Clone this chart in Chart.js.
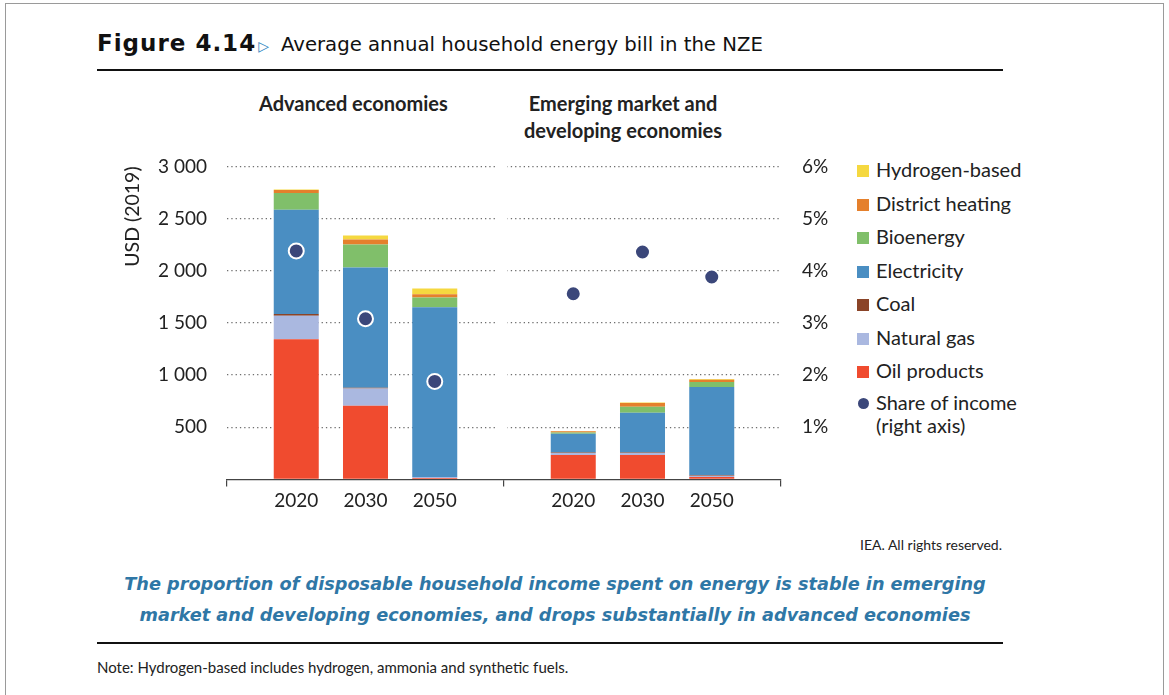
<!DOCTYPE html>
<html>
<head>
<meta charset="utf-8">
<script src="https://cdn.jsdelivr.net/npm/chart.js@4.4.1/dist/chart.umd.min.js"></script>
<style>
  body { margin: 0; width: 1169px; height: 695px; background: #fff; position: relative; overflow: hidden; font-family: Lato, "Noto Sans", sans-serif; color: #222; }
  .frame { position: absolute; left: 5px; top: 3px; width: 1157px; height: 720px; border: 1px solid #9a9a9a; }
  .abs { position: absolute; white-space: nowrap; }
  .title { left: 97px; top: 30px; font-family: "DejaVu Sans", sans-serif; font-size: 19.7px; color: #111; }
  .title b { font-weight: 900; font-size: 23px; letter-spacing: 1px; }
  .title .tri { color: #2e86c1; font-size: 14px; margin: 0 12px 0 2px; }
  .rule { position: absolute; left: 97px; width: 906px; background: #111; }
  .panel { font-size: 20px; font-weight: 700; text-align: center; line-height: 27px; color: #222; }
  #chartBox { position: absolute; left: 100px; top: 134px; width: 750px; height: 386px; }
  #legend { position: absolute; left: 855px; top: 156px; font-size: 20px; color: #222; }
  #legend .row { height: 33.5px; display: flex; align-items: flex-start; line-height: 27px; }
  #legend .sw { width: 12px; height: 12px; margin: 9px 7px 0 2px; flex: none; }
  #legend .dot { width: 11px; height: 11px; border-radius: 50%; margin: 9px 7px 0 3px; flex: none; }
  .caption { left: 0; width: 1110px; text-align: center; font-family: "DejaVu Sans", sans-serif; font-style: italic; font-weight: 700; font-size: 17.7px; color: #2f77a6; line-height: 31px; }
</style>
</head>
<body>
<div class="frame"></div>
<div class="abs title"><b>Figure 4.14</b><span class="tri">&#9655;</span>Average annual household energy bill in the NZE</div>
<div class="rule" style="top:69px;height:1.5px"></div>
<div class="abs panel" style="left:259px;top:90px">Advanced economies</div>
<div class="abs panel" style="left:524px;top:90px">Emerging market and<br>developing economies</div>
<div id="chartBox"><canvas id="chart"></canvas></div>
<div id="legend"></div>
<div class="abs" style="right:167px;top:536px;font-size:14px;color:#222">IEA. All rights reserved.</div>
<div class="abs caption" style="top:569px">The proportion of disposable household income spent on energy is stable in emerging<br>market and developing economies, and drops substantially in advanced economies</div>
<div class="rule" style="top:642px;height:2px"></div>
<div class="abs" style="left:97px;top:658px;font-size:15px;color:#222">Note: Hydrogen-based includes hydrogen, ammonia and synthetic fuels.</div>

<script>
// categories: three years per region group
const years = ['2020', '2030', '2050'];
const xAdvanced = [1, 2, 3];
const xEmerging = [5, 6, 7];

// USD (2019), order: 2020, 2030, 2050
const oilAE = [1345, 706, 15];
const gasAE = [225, 165, 8];
const coalAE = [15, 8, 2];
const elecAE = [1000, 1153, 1625];
const bioAE = [160, 220, 95];
const heatAE = [28, 48, 30];
const h2AE = [5, 38, 55];

const oilEM = [235, 235, 25];
const gasEM = [18, 18, 12];
const coalEM = [6, 5, 5];
const elecEM = [180, 382, 845];
const bioEM = [12, 57, 48];
const heatEM = [12, 35, 20];
const h2EM = [2, 5, 8];

// share of income, %
const shareAE = [4.38, 3.08, 1.88];
const shareEM = [3.56, 4.36, 3.88];

const usdTicks = [500, 1000, 1500, 2000, 2500, 3000];

function points(ae, em) {
    const out = [];
    ae.forEach((v, i) => out.push({ x: xAdvanced[i], y: v }));
    em.forEach((v, i) => out.push({ x: xEmerging[i], y: v }));
    return out;
}

const series = [
    { label: 'Oil products', ae: oilAE, em: oilEM, color: '#f04b2f' },
    { label: 'Natural gas', ae: gasAE, em: gasEM, color: '#aab8e0' },
    { label: 'Coal', ae: coalAE, em: coalEM, color: '#8a4428' },
    { label: 'Electricity', ae: elecAE, em: elecEM, color: '#4a8ec2' },
    { label: 'Bioenergy', ae: bioAE, em: bioEM, color: '#80bf6a' },
    { label: 'District heating', ae: heatAE, em: heatEM, color: '#e5802c' },
    { label: 'Hydrogen-based', ae: h2AE, em: h2EM, color: '#f5d840' }
];

const datasets = series.map(s => ({
    type: 'bar',
    label: s.label,
    data: points(s.ae, s.em),
    backgroundColor: s.color,
    borderWidth: 0,
    barPercentage: 0.65,
    categoryPercentage: 1,
    order: 2,
    yAxisID: 'y'
}));

datasets.push({
    type: 'scatter',
    label: 'Share of income (right axis)',
    data: points(shareAE, shareEM),
    backgroundColor: '#3b477a',
    borderColor: '#ffffff',
    borderWidth: 2,
    pointRadius: 7.5,
    order: 0,
    yAxisID: 'y1'
});

// tick label lookup for the x axis
const xLabels = {};
xAdvanced.forEach((x, i) => xLabels[x] = years[i]);
xEmerging.forEach((x, i) => xLabels[x] = years[i]);

const fontFamily = 'Lato, "Noto Sans", sans-serif';

// small gap in the dotted grid between the two panels
const panelGap = {
    id: 'panelGap',
    beforeDatasetsDraw(chart) {
        const { ctx, chartArea, scales } = chart;
        const x0 = scales.x.getPixelForValue(3.9);
        const x1 = scales.x.getPixelForValue(4.05);
        ctx.save();
        ctx.fillStyle = '#fff';
        ctx.fillRect(x0, chartArea.top - 2, x1 - x0, chartArea.bottom - chartArea.top - 1);
        ctx.restore();
    }
};

const chart = new Chart(document.getElementById('chart'), {
    type: 'bar',
    data: { datasets },
    plugins: [panelGap],
    options: {
        responsive: true,
        maintainAspectRatio: false,
        animation: false,
        layout: { padding: { top: 6, left: 0, right: 0, bottom: 0 } },
        plugins: {
            legend: { display: false },
            tooltip: { enabled: false }
        },
        scales: {
            x: {
                type: 'linear',
                offset: false,
                min: 0,
                max: 8,
                stacked: true,
                afterBuildTicks: (scale) => {
                    scale.ticks = [0, 1, 2, 3, 4, 5, 6, 7, 8].map(v => ({ value: v }));
                },
                afterFit: (scale) => { scale.height = 40.5; },
                ticks: {
                    autoSkip: false,
                    maxRotation: 0,
                    padding: 3,
                    color: '#222',
                    font: { family: fontFamily, size: 19 },
                    callback: (v) => xLabels[v] || ''
                },
                grid: {
                    offset: false,
                    drawOnChartArea: false,
                    drawTicks: true,
                    tickLength: 7,
                    lineWidth: 1.2,
                    color: (c) => (c.tick && c.tick.value % 4 === 0) ? '#444' : 'rgba(0,0,0,0)'
                },
                border: { display: true, color: '#444', width: 1.2 }
            },
            y: {
                position: 'left',
                stacked: true,
                min: 0,
                max: 3000,
                afterBuildTicks: (scale) => {
                    scale.ticks = [0].concat(usdTicks).map(v => ({ value: v }));
                },
                afterFit: (scale) => { scale.width = 127; },
                ticks: {
                    padding: 20,
                    color: '#222',
                    font: { family: fontFamily, size: 19 },
                    callback: (v) => v === 0 ? '' : String(v).replace(/\B(?=(\d{3})+(?!\d))/g, ' ')
                },
                title: {
                    display: true,
                    text: 'USD (2019)',
                    align: 'end',
                    color: '#222',
                    font: { family: fontFamily, size: 19.5 },
                    padding: { top: 21, bottom: 0 }
                },
                grid: {
                    drawTicks: false,
                    lineWidth: 1.3,
                    color: (c) => (c.tick && c.tick.value === 0) ? 'rgba(0,0,0,0)' : '#6e6e6e'
                },
                border: { display: false, dash: [1.3, 3] }
            },
            y1: {
                position: 'right',
                min: 0,
                max: 6,
                afterBuildTicks: (scale) => {
                    scale.ticks = [0, 1, 2, 3, 4, 5, 6].map(v => ({ value: v }));
                },
                afterFit: (scale) => { scale.width = 69; },
                ticks: {
                    padding: 21,
                    color: '#222',
                    font: { family: fontFamily, size: 19 },
                    callback: (v) => v === 0 ? '' : v + '%'
                },
                grid: { display: false, drawTicks: false },
                border: { display: false }
            }
        }
    }
});

// legend, top to bottom in reverse stacking order
const legend = document.getElementById('legend');
series.slice().reverse().forEach(s => {
    const row = document.createElement('div');
    row.className = 'row';
    row.innerHTML = `<span class="sw" style="background:${s.color}"></span><span>${s.label}</span>`;
    legend.appendChild(row);
});
const shareRow = document.createElement('div');
shareRow.className = 'row';
shareRow.style.lineHeight = '23px';
shareRow.innerHTML = '<span class="dot" style="background:#3b477a;margin-top:7px"></span><span>Share of income<br>(right axis)</span>';
legend.appendChild(shareRow);
</script>
</body>
</html>
